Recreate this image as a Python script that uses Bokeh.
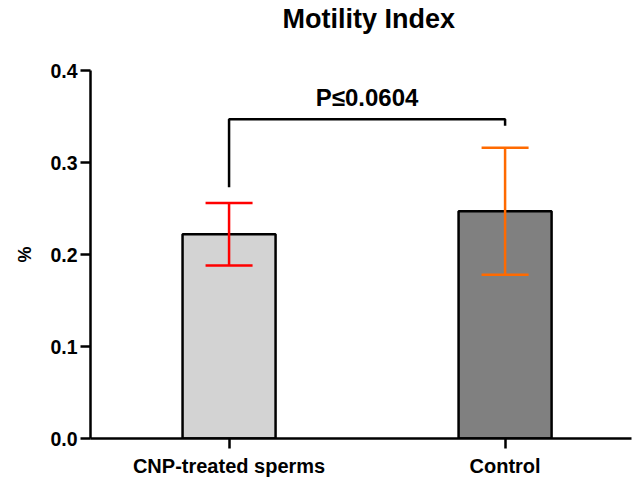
from bokeh.plotting import figure
from bokeh.models import Range1d, FixedTicker, ColumnDataSource, Whisker, TeeHead, Label, Title
from bokeh.embed import file_html
from bokeh.resources import INLINE

# ---- data ----
categories = ["CNP-treated sperms", "Control"]
means = [0.222, 0.247]
err_low = [0.188, 0.178]
err_high = [0.256, 0.316]
bar_colors = ["#d3d3d3", "#808080"]
err_colors = ["#ff0000", "#ff6a00"]
y_ticks = [0.0, 0.1, 0.2, 0.3, 0.4]
y_tick_labels = ["0.0", "0.1", "0.2", "0.3", "0.4"]
title_text = "Motility Index"
p_label = "P\u22640.0604"
bracket_top = 0.347
bracket_left_bottom = 0.273
bracket_right_bottom = 0.340
label_y = 0.371

FONT = "Liberation Sans"
xpos = [i + 1 for i in range(len(categories))]

p = figure(width=633, height=479, output_backend="svg", toolbar_location=None,
           x_range=Range1d(0.498, 2.458), y_range=Range1d(0, 0.4),
           min_border_left=90, min_border_right=2, min_border_top=70, min_border_bottom=41)
p.outline_line_color = None
p.xgrid.visible = False
p.ygrid.visible = False
p.background_fill_color = "white"
p.border_fill_color = "white"
p.title.text = ""

# spacer between frame and title, then the title itself (further from frame)
p.add_layout(Title(text=" ", text_font=FONT, text_font_size="20px", standoff=9), "above")
p.add_layout(Title(text=title_text, text_font=FONT, text_font_size="27px",
                   text_font_style="bold", text_color="black", align="left", offset=192,
                   vertical_align="middle", standoff=5), "above")

src = ColumnDataSource(dict(x=xpos, top=means, color=bar_colors))
p.vbar(x="x", top="top", bottom=0, width=0.337, source=src,
       fill_color="color", line_color="black", line_width=2.5)

for i in range(len(categories)):
    s = ColumnDataSource(dict(x=[xpos[i]], lo=[err_low[i]], hi=[err_high[i]]))
    w = Whisker(base="x", lower="lo", upper="hi", source=s, level="overlay",
                line_color=err_colors[i], line_width=2.5,
                upper_head=TeeHead(size=47, line_color=err_colors[i], line_width=2.5),
                lower_head=TeeHead(size=47, line_color=err_colors[i], line_width=2.5))
    p.add_layout(w)

# significance bracket
bx = [xpos[0], xpos[0], xpos[1], xpos[1]]
by = [bracket_left_bottom, bracket_top, bracket_top, bracket_right_bottom]
p.line(bx, by, line_color="black", line_width=2.5)
p.add_layout(Label(x=(xpos[0] + xpos[1]) / 2, y=label_y, text=p_label,
                   text_font=FONT, text_font_size="24px", text_font_style="bold",
                   text_align="center", text_baseline="middle", text_color="black"))

# axes
p.xaxis.ticker = FixedTicker(ticks=xpos)
p.xaxis.major_label_overrides = {x: c for x, c in zip(xpos, categories)}
p.yaxis.ticker = FixedTicker(ticks=y_ticks)
p.yaxis.major_label_overrides = {t: l for t, l in zip(y_ticks, y_tick_labels)}
p.yaxis.axis_label = "%"
for ax in (p.xaxis[0], p.yaxis[0]):
    ax.axis_line_width = 2.5
    ax.axis_line_color = "black"
    ax.major_tick_line_width = 2.5
    ax.major_tick_line_color = "black"
    ax.major_tick_out = 10
    ax.major_tick_in = 0
    ax.minor_tick_line_color = None
    ax.major_label_text_font = FONT
    ax.major_label_text_font_style = "bold"
    ax.major_label_text_color = "black"
p.xaxis.major_label_text_font_size = "20px"
p.xaxis.major_label_standoff = 6
p.yaxis.major_label_text_font_size = "19.5px"
p.yaxis.major_label_standoff = 3
p.yaxis.axis_label_text_font = FONT
p.yaxis.axis_label_text_font_size = "18px"
p.yaxis.axis_label_text_font_style = "bold"
p.yaxis.axis_label_text_color = "black"
p.yaxis.axis_label_standoff = 12

open("out.html", "w").write(file_html(p, INLINE))
